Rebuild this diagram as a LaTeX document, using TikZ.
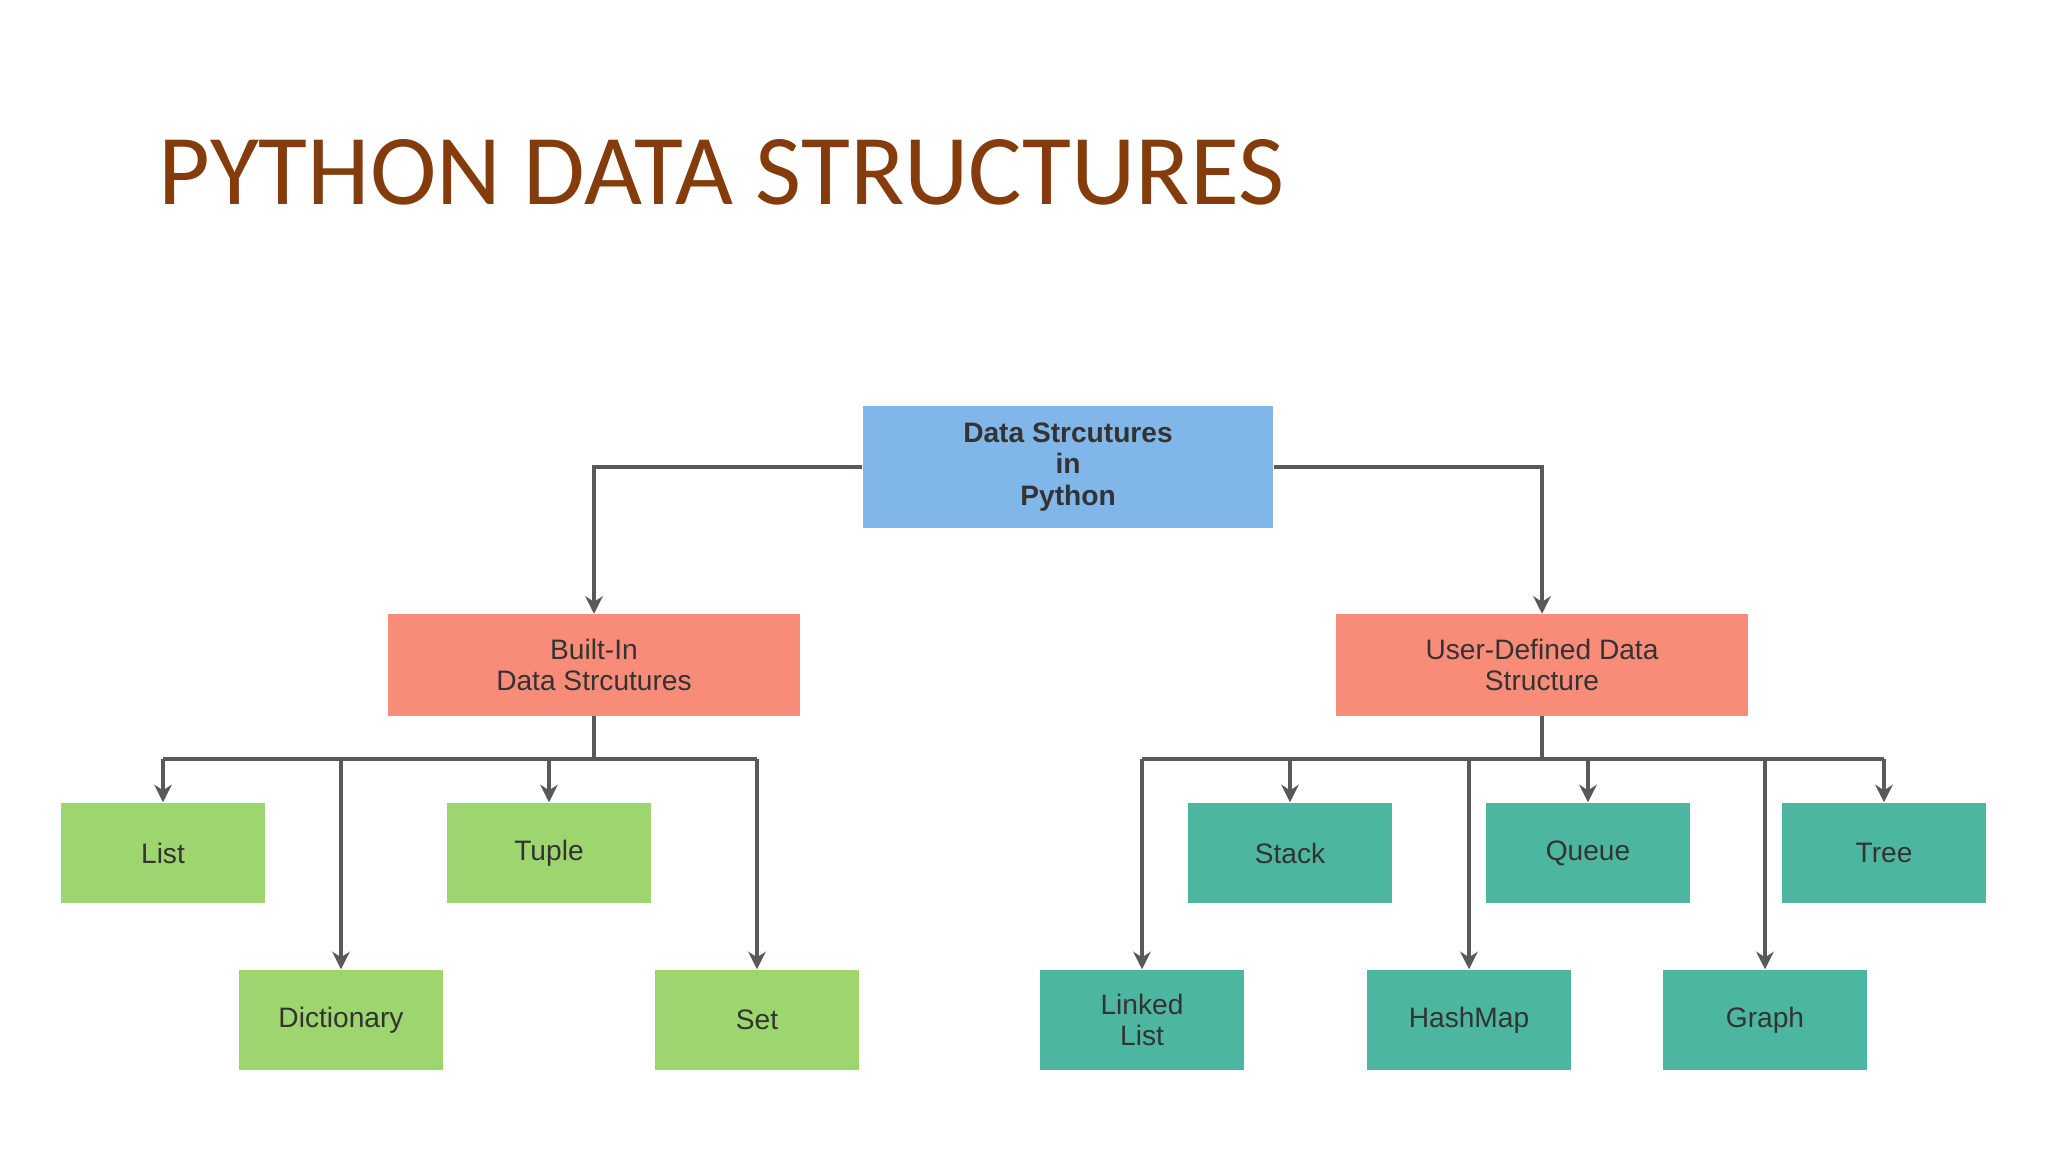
\documentclass[tikz,border=0pt]{standalone}
\usepackage{fontspec}
\setmainfont{Liberation Sans}
\newfontfamily\titlefont{Carlito}
\usetikzlibrary{arrows.meta}
\definecolor{titlec}{HTML}{843C0C}
\definecolor{rootc}{HTML}{80B7E8}
\definecolor{redc}{HTML}{F88C78}
\definecolor{grnc}{HTML}{9DD56E}
\definecolor{tealc}{HTML}{4DB6A0}
\definecolor{txtc}{HTML}{333333}
\begin{document}
\begin{tikzpicture}[x=0.01cm,y=-0.01cm,
  box/.style={inner sep=0pt,align=center,text=txtc,font=\fontsize{8}{9}\selectfont,minimum height=1cm,minimum width=2.03cm},
  rootbox/.style={box,fill=rootc,minimum width=4.1cm,minimum height=1.21cm,font=\bfseries\fontsize{8}{9}\selectfont},
  redbox/.style={box,fill=redc,minimum width=4.11cm,minimum height=1.01cm},
  grnbox/.style={box,fill=grnc},
  tealbox/.style={box,fill=tealc},
  conn/.style={draw=gray!70!black,line width=0.9pt,-{Stealth[length=5pt,width=5pt]}},
  line/.style={draw=gray!70!black,line width=0.9pt}]
\useasboundingbox[fill=white] (0,0) rectangle (2048,1152);
\node[anchor=base west,text=titlec,font=\titlefont\fontsize{28.5}{32}\selectfont,inner sep=0pt] (title) at (158,205) {PYTHON DATA STRUCTURES};
\node[rootbox] (root) at (1068,467) {Data Strcutures\\in\\Python};
\node[redbox] (bi) at (594,665) {Built-In\\Data Strcutures};
\node[redbox] (ud) at (1542,665) {User-Defined Data\\Structure};
\node[grnbox] (list) at (163,853) {List};
\node[grnbox] (tuple) at (549,853) {Tuple};
\node[grnbox] (dict) at (341,1020) {Dictionary};
\node[grnbox] (set) at (757,1020) {Set};
\node[tealbox] (stack) at (1290,853) {Stack};
\node[tealbox] (queue) at (1588,853) {Queue};
\node[tealbox] (tree) at (1884,853) {Tree};
\node[tealbox] (ll) at (1142,1020) {Linked\\List};
\node[tealbox] (hm) at (1469,1020) {HashMap};
\node[tealbox] (graph) at (1765,1020) {Graph};
\draw[conn] (root.west) -| (bi.north);
\draw[conn] (root.east) -| (ud.north);
\coordinate (bb) at (594,759);
\coordinate (ub) at (1542,759);
\draw[line] (bi.south) -- (bb);
\draw[line] (ud.south) -- (ub);
\draw[line] (163,759) -- (757,759);
\draw[line] (1142,759) -- (1884,759);
\foreach \n in {list,tuple,dict,set}{\draw[conn] (bb -| \n.north) -- (\n.north);}
\foreach \n in {stack,queue,tree,ll,hm,graph}{\draw[conn] (ub -| \n.north) -- (\n.north);}
\end{tikzpicture}
\end{document}
